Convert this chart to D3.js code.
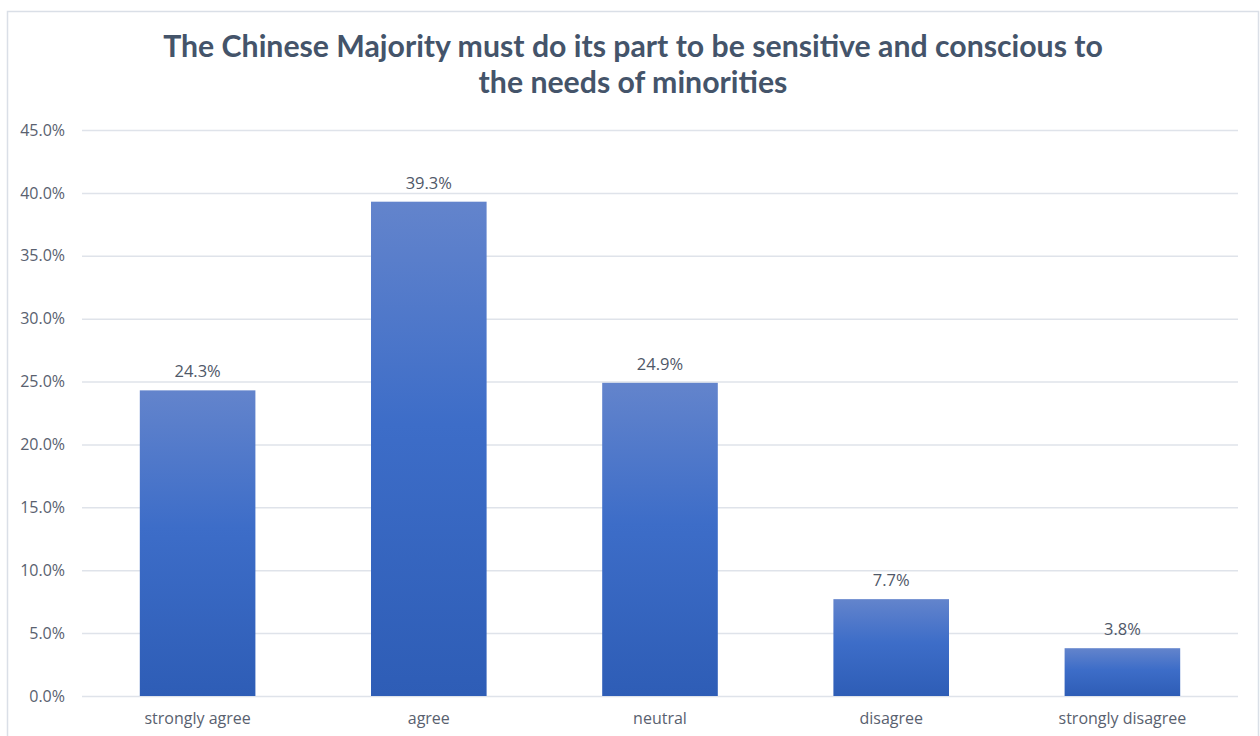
<!DOCTYPE html>
<html>
<head>
<meta charset="utf-8">
<script src="https://cdn.jsdelivr.net/npm/d3@7"></script>
<style>
  html, body { margin: 0; padding: 0; background: #ffffff; }
  svg { display: block; }
</style>
</head>
<body>
<svg id="chart" width="1260" height="736"></svg>
<script>
// Survey responses (share of respondents)
const categories = ["strongly agree", "agree", "neutral", "disagree", "strongly disagree"];
const values = [0.243, 0.393, 0.249, 0.077, 0.038];
const yTicks = [0, 0.05, 0.10, 0.15, 0.20, 0.25, 0.30, 0.35, 0.40, 0.45];
const titleLines = [
  "The Chinese Majority must do its part to be sensitive and conscious to",
  "the needs of minorities"
];

const svg = d3.select("#chart");
const FONT = "'Open Sans', 'Noto Sans', sans-serif";
const TITLE_FONT = "Lato, 'Open Sans', sans-serif";

// Outer chart frame
svg.append("rect")
  .attr("x", 7.5).attr("y", 11.5)
  .attr("width", 1251).attr("height", 740)
  .attr("fill", "#ffffff")
  .attr("stroke", "#DADFE7")
  .attr("stroke-width", 1.5);

const plot = { left: 82, right: 1238, top: 130, bottom: 696 };

const x = d3.scaleBand()
  .domain(categories)
  .range([plot.left, plot.right])
  .paddingInner(0.5)
  .paddingOuter(0.25);

const y = d3.scaleLinear()
  .domain([0, 0.45])
  .range([plot.bottom, plot.top]);

// Bar fill gradient
const defs = svg.append("defs");
const grad = defs.append("linearGradient")
  .attr("id", "barGrad")
  .attr("x1", 0).attr("y1", 0).attr("x2", 0).attr("y2", 1);
grad.append("stop").attr("offset", "0%").attr("stop-color", "#6384CC");
grad.append("stop").attr("offset", "45%").attr("stop-color", "#3D6DC8");
grad.append("stop").attr("offset", "100%").attr("stop-color", "#2E5DB6");

// Gridlines and y tick labels
const yAxis = d3.axisLeft(y)
  .tickValues(yTicks)
  .tickFormat(d3.format(".1%"))
  .tickSize(-(plot.right - plot.left))
  .tickPadding(17);

const gy = svg.append("g")
  .attr("transform", `translate(${plot.left},0)`)
  .call(yAxis);
gy.select(".domain").remove();
gy.selectAll(".tick line")
  .attr("stroke", "#DFE3EA")
  .attr("stroke-width", 1.5);
gy.selectAll(".tick text")
  .attr("fill", "#59616F")
  .style("font-family", FONT)
  .style("font-size", "16px");

// Bars
svg.append("g")
  .selectAll("rect")
  .data(values)
  .join("rect")
  .attr("x", (d, i) => x(categories[i]))
  .attr("y", d => y(d))
  .attr("width", x.bandwidth())
  .attr("height", d => y(0) - y(d))
  .attr("fill", "url(#barGrad)");

// Value labels above bars
svg.append("g")
  .selectAll("text")
  .data(values)
  .join("text")
  .attr("x", (d, i) => x(categories[i]) + x.bandwidth() / 2)
  .attr("y", d => y(d) - 13)
  .attr("text-anchor", "middle")
  .attr("fill", "#4F5868")
  .style("font-family", FONT)
  .style("font-size", "16.5px")
  .text(d3.format(".1%"));

// Category labels
const xAxis = d3.axisBottom(x).tickSize(0).tickPadding(0);
const gx = svg.append("g")
  .attr("transform", `translate(0,${plot.bottom})`)
  .call(xAxis);
gx.select(".domain").remove();
gx.selectAll(".tick text")
  .attr("dy", null)
  .attr("y", 28)
  .attr("fill", "#59616F")
  .style("font-family", FONT)
  .style("font-size", "16px");

// Title
const title = svg.append("g")
  .attr("fill", "#44546A")
  .style("font-family", TITLE_FONT)
  .style("font-weight", "700");
const tl = title.selectAll("text")
  .data(titleLines)
  .join("text")
  .attr("x", 633)
  .attr("y", (d, i) => 57 + i * 36)
  .attr("text-anchor", "middle")
  .style("font-size", "28px")
  .text(d => d);
// Fit the first line to its intended width
const len = tl.node().getComputedTextLength();
tl.style("font-size", (28 * 940 / len) + "px");
</script>
</body>
</html>
